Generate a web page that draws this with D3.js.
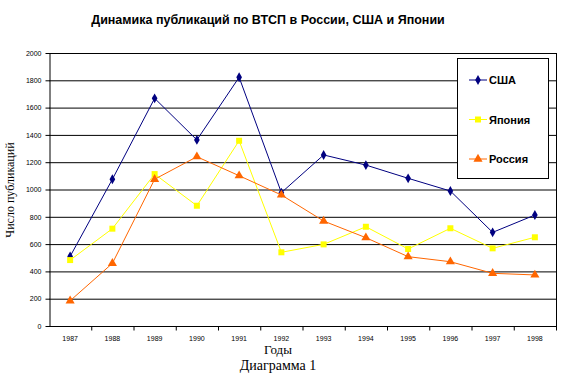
<!DOCTYPE html>
<html>
<head>
<meta charset="utf-8">
<script src="https://cdn.jsdelivr.net/npm/d3@7"></script>
<style>
body { margin: 0; background: #fff; }
</style>
</head>
<body>
<div id="main"></div>
<script>
var years = ["1987","1988","1989","1990","1991","1992","1993","1994","1995","1996","1997","1998"];
var usa    = [510, 1075, 1668, 1363, 1822, 977, 1253, 1179, 1082, 989, 686, 813];
var japan  = [483, 713, 1113, 881, 1357, 540, 598, 727, 564, 716, 569, 650];
var russia = [185, 459, 1075, 1240, 1101, 960, 769, 647, 508, 471, 386, 374];
var yTicks = [0, 200, 400, 600, 800, 1000, 1200, 1400, 1600, 1800, 2000];

var series = [
    {name: "США", values: usa, color: "#000080", shape: "diamond"},
    {name: "Япония", values: japan, color: "#ffff00", shape: "square"},
    {name: "Россия", values: russia, color: "#ff6600", shape: "triangle"}
];

var ctx = {w: 571, h: 374, left: 49, right: 556, top: 53, bottom: 326};

var svg = d3.select("#main").append("svg")
    .attr("width", ctx.w)
    .attr("height", ctx.h);
svg.append("rect").attr("width", ctx.w).attr("height", ctx.h).attr("fill", "#fff");

var x = d3.scaleBand().domain(years).range([ctx.left, ctx.right]);
var y = d3.scaleLinear().domain([0, 2000]).range([ctx.bottom, ctx.top]);

// title
svg.append("text")
    .attr("x", 268).attr("y", 24)
    .attr("text-anchor", "middle")
    .attr("font-family", "Arial, 'Liberation Sans', sans-serif")
    .attr("font-weight", "bold")
    .attr("font-size", 12.5)
    .text("Динамика публикаций по ВТСП в России, США и Японии");

// gridlines
svg.append("g").selectAll("line")
    .data(yTicks.slice(1))
    .enter().append("line")
    .attr("x1", ctx.left).attr("x2", ctx.right)
    .attr("y1", d => y(d) + 0.5).attr("y2", d => y(d) + 0.5)
    .attr("stroke", "#000");

// right border
svg.append("line")
    .attr("x1", ctx.right + 0.5).attr("x2", ctx.right + 0.5)
    .attr("y1", ctx.top).attr("y2", ctx.bottom)
    .attr("stroke", "#000");

// y axis
var yAxis = svg.append("g")
    .attr("transform", "translate(" + (ctx.left + 0.5) + ",0)")
    .call(d3.axisLeft(y).tickValues(yTicks).tickFormat(d3.format("d")).tickSize(4).tickSizeOuter(0));
yAxis.selectAll("text")
    .attr("font-family", "Arial, sans-serif")
    .attr("font-size", 7)
    .attr("dx", "-1");
yAxis.selectAll("path, line").attr("stroke", "#000");

// x axis
var xAxis = svg.append("g")
    .attr("transform", "translate(0," + (ctx.bottom + 0.5) + ")")
    .call(d3.axisBottom(x).tickSize(0).tickPadding(10));
xAxis.select(".domain").attr("d", "M" + ctx.left + ",0H" + (ctx.right + 1)).attr("stroke", "#000");
xAxis.selectAll("text").attr("font-family", "Arial, sans-serif").attr("font-size", 7);
xAxis.selectAll("line.sep")
    .data(years)
    .enter().append("line")
    .attr("class", "sep")
    .attr("x1", d => x(d) + x.bandwidth() + 0.5)
    .attr("x2", d => x(d) + x.bandwidth() + 0.5)
    .attr("y1", 0).attr("y2", 4)
    .attr("stroke", "#000");

// axis titles
svg.append("text")
    .attr("x", 278).attr("y", 354)
    .attr("text-anchor", "middle")
    .attr("font-family", "'Liberation Serif', 'Times New Roman', serif")
    .attr("font-size", 13)
    .text("Годы");
svg.append("text")
    .attr("x", 278).attr("y", 370)
    .attr("text-anchor", "middle")
    .attr("font-family", "'Liberation Serif', 'Times New Roman', serif")
    .attr("font-size", 14)
    .text("Диаграмма 1");
svg.append("text")
    .attr("transform", "translate(14,190) rotate(-90)")
    .attr("text-anchor", "middle")
    .attr("font-family", "'Liberation Serif', 'Times New Roman', serif")
    .attr("font-size", 12)
    .text("Число публикаций");

var symbolFor = function(shape) {
    if (shape == "diamond") return d3.symbol().type(d3.symbolDiamond).size(28);
    if (shape == "square") return d3.symbol().type(d3.symbolSquare).size(36);
    return d3.symbol().type(d3.symbolTriangle).size(36);
};

var line = d3.line()
    .x((d, i) => x(years[i]) + x.bandwidth() / 2)
    .y(d => y(d));

series.forEach(function(s) {
    var g = svg.append("g");
    g.append("path")
        .attr("d", line(s.values))
        .attr("fill", "none")
        .attr("stroke", s.color)
        .attr("stroke-width", 1);
    g.selectAll("path.mark")
        .data(s.values)
        .enter().append("path")
        .attr("class", "mark")
        .attr("transform", (d, i) => "translate(" + (x(years[i]) + x.bandwidth() / 2) + "," + y(d) + ")")
        .attr("d", symbolFor(s.shape))
        .attr("fill", s.color);
});

// legend
var lg = svg.append("g");
lg.append("rect")
    .attr("x", 457.5).attr("y", 58.5)
    .attr("width", 91).attr("height", 120)
    .attr("fill", "#fff").attr("stroke", "#000");
series.forEach(function(s, i) {
    var ly = 80 + i * 39.5;
    lg.append("line")
        .attr("x1", 469).attr("x2", 487)
        .attr("y1", ly).attr("y2", ly)
        .attr("stroke", s.color);
    lg.append("path")
        .attr("transform", "translate(478," + ly + ")")
        .attr("d", symbolFor(s.shape))
        .attr("fill", s.color);
    lg.append("text")
        .attr("x", 489).attr("y", ly + 4)
        .attr("font-family", "Arial, sans-serif")
        .attr("font-weight", "bold")
        .attr("font-size", 11)
        .text(s.name);
});
</script>
</body>
</html>
